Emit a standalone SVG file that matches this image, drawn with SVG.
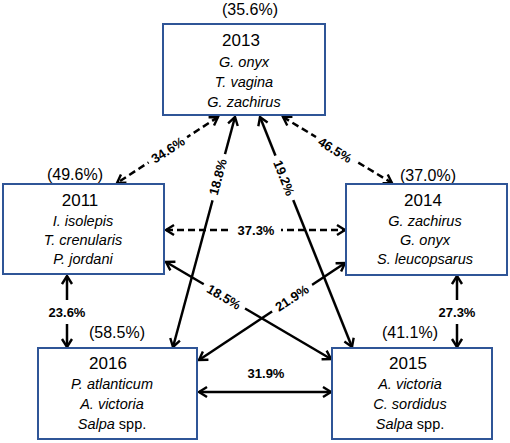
<svg xmlns="http://www.w3.org/2000/svg" width="510" height="443" viewBox="0 0 510 443">
<style>
.box{fill:#fff;stroke:#2F5597;stroke-width:2}
.yr{font-family:"Liberation Sans",Arial,sans-serif;font-size:17px;fill:#000;text-anchor:middle}
.sp{font-family:"Liberation Sans",Arial,sans-serif;font-size:14.5px;font-style:italic;fill:#000;text-anchor:middle}
.pc{font-family:"Liberation Sans",Arial,sans-serif;font-size:16px;fill:#000;text-anchor:middle}
.lb{font-family:"Liberation Sans",Arial,sans-serif;font-size:13px;font-weight:bold;fill:#000;text-anchor:middle}
.ln{stroke:#000;stroke-width:2.5;fill:none;marker-start:url(#ah);marker-end:url(#ah)}
.dash{stroke-dasharray:7,4}
</style>
<defs>
<marker id="ah" markerUnits="userSpaceOnUse" markerWidth="14" markerHeight="14" refX="10" refY="6" orient="auto-start-reverse">
<path d="M2,1 L10,6 L2,11" fill="none" stroke="#000" stroke-width="2.4"/>
</marker>
</defs>
<g id="connectors">
<line class="ln dash" x1="218" y1="117" x2="117" y2="183"/>
<line class="ln dash" x1="283" y1="117" x2="392" y2="183"/>
<line class="ln" x1="235" y1="117" x2="173" y2="347"/>
<line class="ln" x1="260" y1="117" x2="352" y2="347"/>
<line class="ln dash" x1="166" y1="230" x2="345" y2="230"/>
<line class="ln" x1="166" y1="262" x2="331" y2="359"/>
<line class="ln" x1="199" y1="360" x2="345" y2="263"/>
<line class="ln" x1="199" y1="392" x2="331" y2="392"/>
<line class="ln" x1="67" y1="276" x2="67" y2="347"/>
<line class="ln" x1="457" y1="276" x2="457" y2="347"/>
<g transform="translate(168,150) rotate(-33.2)"><rect x="-23" y="-8" width="46" height="16" fill="#fff"/><text class="lb" x="0" y="4.5">34.6%</text></g>
<g transform="translate(335,150) rotate(31.2)"><rect x="-23" y="-8" width="46" height="16" fill="#fff"/><text class="lb" x="0" y="4.5">46.5%</text></g>
<g transform="translate(218,177) rotate(-75)"><rect x="-24" y="-8" width="48" height="16" fill="#fff"/><text class="lb" x="0" y="4.5">18.8%</text></g>
<g transform="translate(284,178) rotate(68.3)"><rect x="-24" y="-8" width="48" height="16" fill="#fff"/><text class="lb" x="0" y="4.5">19.2%</text></g>
<g transform="translate(224,297) rotate(30.6)"><rect x="-24" y="-8" width="48" height="16" fill="#fff"/><text class="lb" x="0" y="4.5">18.5%</text></g>
<g transform="translate(292,298) rotate(-33.4)"><rect x="-24" y="-8" width="48" height="16" fill="#fff"/><text class="lb" x="0" y="4.5">21.9%</text></g>
<g transform="translate(256,230)"><rect x="-25" y="-8" width="50" height="16" fill="#fff"/><text class="lb" x="0" y="4.5">37.3%</text></g>
<g transform="translate(67,312)"><rect x="-20" y="-12" width="40" height="24" fill="#fff"/><text class="lb" x="0" y="4.5">23.6%</text></g>
<g transform="translate(457,312)"><rect x="-20" y="-12" width="40" height="24" fill="#fff"/><text class="lb" x="0" y="4.5">27.3%</text></g>
<text class="lb" x="266" y="378">31.9%</text>
</g>
<g id="n2013">
<text class="pc" x="250" y="15">(35.6%)</text>
<rect class="box" x="163" y="24" width="162" height="91"/>
<text class="yr" x="241" y="46">2013</text>
<text class="sp" x="244" y="67">G. onyx</text>
<text class="sp" x="244" y="87">T. vagina</text>
<text class="sp" x="244" y="107">G. zachirus</text>
</g>
<g id="n2011">
<text class="pc" x="75" y="180">(49.6%)</text>
<rect class="box" x="3" y="184" width="161" height="90"/>
<text class="yr" x="80" y="206">2011</text>
<text class="sp" x="83" y="226">I. isolepis</text>
<text class="sp" x="83" y="245">T. crenularis</text>
<text class="sp" x="83" y="264">P. jordani</text>
</g>
<g id="n2014">
<text class="pc" x="428" y="181">(37.0%)</text>
<rect class="box" x="346" y="184" width="161" height="91"/>
<text class="yr" x="423" y="206">2014</text>
<text class="sp" x="425" y="226">G. zachirus</text>
<text class="sp" x="425" y="245">G. onyx</text>
<text class="sp" x="425" y="264">S. leucopsarus</text>
</g>
<g id="n2016">
<text class="pc" x="117" y="338">(58.5%)</text>
<rect class="box" x="38" y="348" width="159" height="91"/>
<text class="yr" x="108" y="369">2016</text>
<text class="sp" x="112" y="389">P. atlanticum</text>
<text class="sp" x="112" y="409">A. victoria</text>
<text class="sp" x="112" y="429"><tspan>Salpa</tspan><tspan font-style="normal"> spp.</tspan></text>
</g>
<g id="n2015">
<text class="pc" x="410" y="338">(41.1%)</text>
<rect class="box" x="332" y="348" width="160" height="91"/>
<text class="yr" x="408" y="369">2015</text>
<text class="sp" x="410" y="389">A. victoria</text>
<text class="sp" x="410" y="409">C. sordidus</text>
<text class="sp" x="410" y="429"><tspan>Salpa</tspan><tspan font-style="normal"> spp.</tspan></text>
</g>
</svg>
